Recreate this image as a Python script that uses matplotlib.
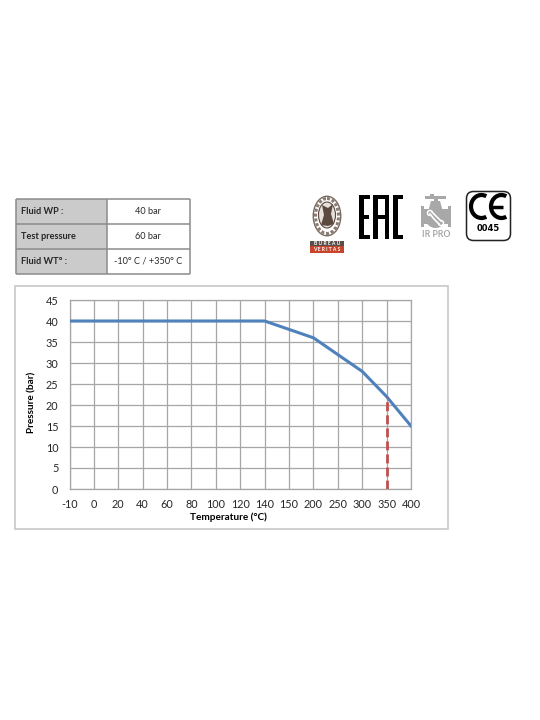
import matplotlib
matplotlib.use("Agg")
import matplotlib.pyplot as plt
from matplotlib.patches import Rectangle, Ellipse, FancyBboxPatch, Polygon, Arc, Circle

plt.rcParams["font.family"] = ["Lato", "DejaVu Sans"]

temps = ["-10", "0", "20", "40", "60", "80", "100", "120", "140", "150", "200", "250", "300", "350", "400"]
pressure = [40, 40, 40, 40, 40, 40, 40, 40, 40, 38, 36, 32, 28, 22, 15]
limit_temp = ["350", "350"]
limit_pressure = [0, 22]
y_ticks = [0, 5, 10, 15, 20, 25, 30, 35, 40, 45]

table_rows = ["Fluid WP :", "Test pressure", "Fluid WT° :"]
table_vals = ["40 bar", "60 bar", "-10° C / +350° C"]

GRID = "#a6a6a6"
TXT = "#262626"
W, H = 540, 720


def rects(ax, items, color):
    for x, y, w, h in items:
        ax.add_patch(Rectangle((x, y), w, h, fc=color, ec="none"))


fig = plt.figure(figsize=(W / 100, H / 100), dpi=100, facecolor="white")

# overlay in pixel coords for the table, the frame and the logos
bg = fig.add_axes([0, 0, 1, 1])
bg.set_xlim(0, W)
bg.set_ylim(H, 0)
bg.axis("off")

bg.add_patch(Rectangle((15, 286), 433, 243, fc="white", ec="#c8c8c8", lw=1.2))

# table
row_y = [198.5, 224, 249, 274]
bg.add_patch(Rectangle((15.5, 198.5), 91, 75.5, fc="#cbcbcb", ec="none"))
for y in row_y:
    bg.plot([15.5, 190], [y, y], color="#8c8c8c", lw=1.1, solid_capstyle="butt")
for x in [15.5, 106.5, 190]:
    bg.plot([x, x], [198.5, 274], color="#8c8c8c", lw=1.1, solid_capstyle="butt")
for i, (name, val) in enumerate(zip(table_rows, table_vals)):
    yc = (row_y[i] + row_y[i + 1]) / 2
    bg.text(21, yc, name, fontsize=6.6, fontweight="bold", color=TXT, va="center")
    bg.text(148, yc, val, fontsize=6.6, color=TXT, va="center", ha="center")

# bureau veritas
BROWN = "#5c4a40"
bg.add_patch(Ellipse((327, 216), 27.5, 39.5, fc="white", ec="#7a6a60", lw=1.0))
bg.add_patch(Ellipse((327, 216), 23, 35, fc="none", ec="#8a7c72", lw=2.2, ls=(0, (1, 0.6))))
bg.add_patch(Ellipse((327, 215), 17, 26, fc="#e6e1dc", ec=BROWN, lw=0.8))
bg.add_patch(Polygon([(322, 205), (328, 208), (333, 204), (331, 214), (334, 224),
                      (328, 226), (321, 225), (324, 215)], fc=BROWN, ec="none"))
rects(bg, [(310, 240.5, 34, 5.7)], "#5a4f48")
rects(bg, [(310, 246.2, 34, 6.8)], "#c8452c")
bg.text(327, 243.4, "B U R E A U", fontsize=3.6, color="white", ha="center", va="center", fontweight="bold")
bg.text(327, 249.7, "V E R I T A S", fontsize=3.6, color="white", ha="center", va="center", fontweight="bold")

# EAC
rects(bg, [
    (359, 195, 4.5, 44), (359, 195, 11, 4), (359, 215, 10, 4), (359, 235, 11, 4),
    (373, 199, 4.5, 40), (384.5, 199, 4.5, 40), (373, 195, 16, 4), (373, 215, 16, 4),
    (393, 195, 4.5, 44), (393, 195, 10, 4), (393, 235, 10, 4),
], "black")

# IR PRO valve
VALVE = "#a8a8a8"
rects(bg, [(421, 206, 3, 21), (448, 206, 3, 21), (424, 209, 24, 15), (433.5, 197, 4, 8),
           (425, 196, 21, 2.5), (430, 193.5, 4, 3)], VALVE)
bg.add_patch(Polygon([(428, 212), (443, 212), (440, 201), (431, 201)], fc=VALVE, ec="none"))
bg.add_patch(Circle((435.5, 218), 10, fc=VALVE, ec="none"))
# wrench and hand outline
bg.plot([430, 434, 439], [214, 219, 224], color="white", lw=1.2)
bg.plot([432, 437, 441], [212, 217, 221], color="white", lw=1.2)
bg.add_patch(Arc((430, 213), 5, 5, theta1=90, theta2=360, ec="white", lw=1.1))
bg.add_patch(Arc((441, 223), 5, 5, theta1=270, theta2=180, ec="white", lw=1.1))
bg.text(436, 234.5, "IR PRO", fontsize=6.3, color=VALVE, ha="center", va="center", fontweight="bold")

# CE mark
bg.add_patch(FancyBboxPatch((466.5, 191.5), 44, 49, boxstyle="round,pad=0,rounding_size=7",
                            fc="white", ec="#222222", lw=1.1))
bg.add_patch(Arc((481.5, 206.5), 21, 23, theta1=65, theta2=295, ec="black", lw=3))
bg.add_patch(Arc((501.5, 206.5), 21, 23, theta1=65, theta2=295, ec="black", lw=3))
bg.plot([491, 503], [206.5, 206.5], color="black", lw=2.5, solid_capstyle="butt")
bg.text(488.5, 228.5, "0045", fontsize=6, color="black", ha="center", va="center", fontweight="bold",
        family="DejaVu Sans")

# chart
ax = fig.add_axes([69.5 / W, 1 - 489 / H, (411 - 69.5) / W, (489 - 300) / H])
ax.patch.set_alpha(0)
x_pos = list(range(len(temps)))
ax.plot(x_pos, pressure, color="#4f81bd", lw=2.2, solid_joinstyle="round", zorder=3)
lim_x = [temps.index(t) for t in limit_temp]
ax.plot(lim_x, limit_pressure, color="#c0504d", lw=2.0, dashes=(3.2, 1.5), zorder=4)

ax.set_xlim(0, len(temps) - 1)
ax.set_ylim(0, 45)
ax.set_xticks(x_pos, temps)
ax.set_yticks(y_ticks)
ax.grid(True, color=GRID, lw=0.9)
ax.set_axisbelow(True)
for s in ax.spines.values():
    s.set_color(GRID)
    s.set_linewidth(0.9)
ax.tick_params(length=0, labelsize=7.8, labelcolor=TXT, pad=7)
ax.tick_params(axis="y", pad=8)
ax.set_xlabel("Temperature (°C)", fontsize=7.2, fontweight="bold", color="black")
ax.set_ylabel("Pressure (bar)", fontsize=7.2, fontweight="bold", color="black")
ax.xaxis.set_label_coords((228.5 - 69.5) / (411 - 69.5), -(517.5 - 489) / (489 - 300), transform=ax.transAxes)
ax.xaxis.label.set_va("center")
ax.yaxis.set_label_coords(-(69.5 - 31.5) / (411 - 69.5), (489 - 402.5) / (489 - 300), transform=ax.transAxes)
ax.yaxis.label.set_va("center")

fig.savefig("out.png", dpi=100)
